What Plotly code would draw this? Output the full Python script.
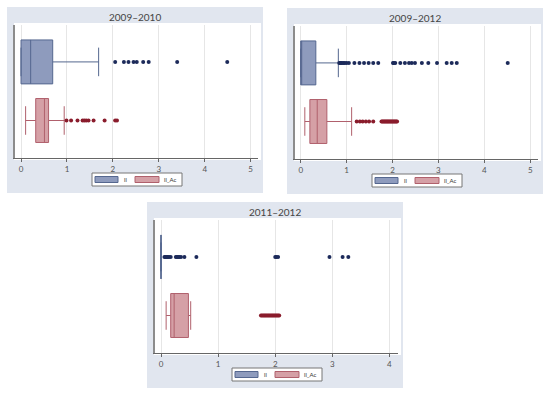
import plotly.graph_objects as go

W, H = 550, 393

# ---------------- data ----------------
titles = ["2009\u20132010", "2009\u20132012", "2011\u20132012"]
series_names = ["ll", "ll_Ac"]

# box stats per panel: [q1, median, q3, lowerfence, upperfence]
ll_stats = [
    [0.0, 0.21, 0.69, 0.0, 1.69],
    [0.0, 0.0, 0.33, 0.0, 0.82],
    [0.0, 0.0, 0.0, 0.0, 0.0],
]
llac_stats = [
    [0.32, 0.51, 0.60, 0.10, 0.94],
    [0.20, 0.36, 0.57, 0.09, 1.11],
    [0.17, 0.23, 0.48, 0.09, 0.52],
]

ll_out_1 = [2.05, 2.24, 2.34, 2.45, 2.52, 2.66, 2.78, 3.40, 4.49]
llac_out_1 = [0.99, 1.09, 1.23, 1.34, 1.38, 1.42, 1.47, 1.58, 1.82, 2.05, 2.09]

ll_out_2 = [0.84, 0.86, 0.88, 0.90, 0.93, 0.96, 1.00, 1.05, 1.17, 1.28, 1.38,
            1.48, 1.58, 1.69, 2.01, 2.03, 2.06, 2.17, 2.27, 2.36, 2.42, 2.49,
            2.64, 2.78, 2.97, 3.18, 3.29, 3.40, 4.51]
llac_out_2 = [1.22, 1.29, 1.35, 1.42, 1.49, 1.58, 1.76, 1.78, 1.80, 1.82, 1.84,
              1.86, 1.88, 1.90, 1.92, 1.94, 1.96, 1.98, 2.00, 2.02, 2.04, 2.06,
              2.08, 2.10]

ll_out_3 = [0.06, 0.08, 0.10, 0.12, 0.14, 0.17, 0.26, 0.28, 0.30, 0.32, 0.35,
            0.41, 0.62, 2.00, 2.02, 2.05, 2.95, 3.18, 3.28]
llac_out_3 = [1.75, 1.77, 1.79, 1.81, 1.83, 1.85, 1.87, 1.89, 1.91, 1.93, 1.95,
              1.97, 1.99, 2.01, 2.03, 2.05, 2.07]

ll_outliers = [ll_out_1, ll_out_2, ll_out_3]
llac_outliers = [llac_out_1, llac_out_2, llac_out_3]

x_ticks = [[0, 1, 2, 3, 4, 5], [0, 1, 2, 3, 4, 5], [0, 1, 2, 3, 4]]

# ---------------- layout constants ----------------
origins = [(7, 7), (287, 8), (147, 202)]
PW, PH = 256, 186
x_ranges = [[-0.131, 5.16], [-0.124, 5.17], [-0.105, 4.15]]
y_range = [0.36, 2.63]
POS_LL, POS_AC = 2, 1

BG = "#e1e6ef"
BLUE_FILL, BLUE_LINE, BLUE_DOT = "#8e9bbd", "#55678f", "#1c2a5a"
RED_FILL, RED_LINE, RED_DOT = "#d5a0a6", "#b0606c", "#8a1c2c"
FONT = "Lato"


def px(x):
    return x / W


def py(y):
    return 1 - y / H


fig = go.Figure()
shapes = []
annotations = []
layout = {}

for i in range(3):
    ox, oy = origins[i]
    n = "" if i == 0 else str(i + 1)
    xa, ya = "x" + n, "y" + n

    # panel background
    shapes.append(dict(type="rect", xref="paper", yref="paper",
                       x0=px(ox), x1=px(ox + PW), y0=py(oy + PH), y1=py(oy),
                       fillcolor=BG, line=dict(width=0), layer="below"))
    # white plot region
    shapes.append(dict(type="rect", xref="paper", yref="paper",
                       x0=px(ox + 7), x1=px(ox + 254), y0=py(oy + 153), y1=py(oy + 16),
                       fillcolor="white", line=dict(width=0), layer="below"))

    layout["xaxis" + n] = dict(
        domain=[px(ox + 8), px(ox + 251)], range=x_ranges[i], anchor=ya,
        tickvals=x_ticks[i], ticks="outside", ticklen=3, tickcolor="#666",
        showline=True, linecolor="#666", linewidth=1, showgrid=True,
        gridcolor="#e6e6e6", gridwidth=1, zeroline=False,
        tickfont=dict(family=FONT, size=8, color="#555"), fixedrange=True)
    layout["yaxis" + n] = dict(
        domain=[py(oy + 151), py(oy + 18)], range=y_range, anchor=xa,
        showticklabels=False, ticks="", showgrid=False, zeroline=False,
        showline=True, linecolor="#8c8c8c", linewidth=2, fixedrange=True)

    # boxes
    for stats, pos, fill, line, name in [
        (ll_stats[i], POS_LL, BLUE_FILL, BLUE_LINE, series_names[0]),
        (llac_stats[i], POS_AC, RED_FILL, RED_LINE, series_names[1]),
    ]:
        fig.add_trace(go.Box(
            orientation="h", y=[pos], q1=[stats[0]], median=[stats[1]],
            q3=[stats[2]], lowerfence=[stats[3]], upperfence=[stats[4]],
            width=0.75, whiskerwidth=0.65, fillcolor=fill,
            line=dict(color=line, width=1), boxpoints=False, name=name,
            showlegend=False, xaxis=xa, yaxis=ya))

    # outliers
    fig.add_trace(go.Scatter(
        x=ll_outliers[i], y=[POS_LL] * len(ll_outliers[i]), mode="markers",
        marker=dict(color=BLUE_DOT, size=4), showlegend=False,
        xaxis=xa, yaxis=ya))
    fig.add_trace(go.Scatter(
        x=llac_outliers[i], y=[POS_AC] * len(llac_outliers[i]), mode="markers",
        marker=dict(color=RED_DOT, size=4), showlegend=False,
        xaxis=xa, yaxis=ya))

    # title
    annotations.append(dict(text=titles[i], xref="paper", yref="paper",
                            x=px(ox + PW / 2), y=py(oy + 10), showarrow=False,
                            xanchor="center", yanchor="middle",
                            font=dict(family=FONT, size=10, color="#444")))

    # legend (drawn)
    lx, ly = ox + 85, oy + 166
    shapes.append(dict(type="rect", xref="paper", yref="paper",
                       x0=px(lx), x1=px(lx + 90), y0=py(ly + 13), y1=py(ly),
                       fillcolor="white", line=dict(color="#777", width=1)))
    shapes.append(dict(type="rect", xref="paper", yref="paper",
                       x0=px(lx + 3), x1=px(lx + 26), y0=py(ly + 9.5), y1=py(ly + 3.5),
                       fillcolor=BLUE_FILL, line=dict(color=BLUE_LINE, width=1)))
    shapes.append(dict(type="rect", xref="paper", yref="paper",
                       x0=px(lx + 43), x1=px(lx + 67), y0=py(ly + 9.5), y1=py(ly + 3.5),
                       fillcolor=RED_FILL, line=dict(color=RED_LINE, width=1)))
    annotations.append(dict(text=series_names[0], xref="paper", yref="paper",
                            x=px(lx + 30), y=py(ly + 6.5), showarrow=False,
                            xanchor="left", yanchor="middle",
                            font=dict(family=FONT, size=6, color="#333")))
    annotations.append(dict(text=series_names[1], xref="paper", yref="paper",
                            x=px(lx + 70), y=py(ly + 6.5), showarrow=False,
                            xanchor="left", yanchor="middle",
                            font=dict(family=FONT, size=6, color="#333")))

fig.update_layout(
    width=W, height=H, margin=dict(l=0, r=0, t=0, b=0),
    paper_bgcolor="white", plot_bgcolor="rgba(0,0,0,0)",
    shapes=shapes, annotations=annotations, showlegend=False,
    **layout)

fig.write_html("out.html", config={"displayModeBar": False},
               post_script="document.body.style.margin='0px';"
                           "document.body.style.padding='0px';")
